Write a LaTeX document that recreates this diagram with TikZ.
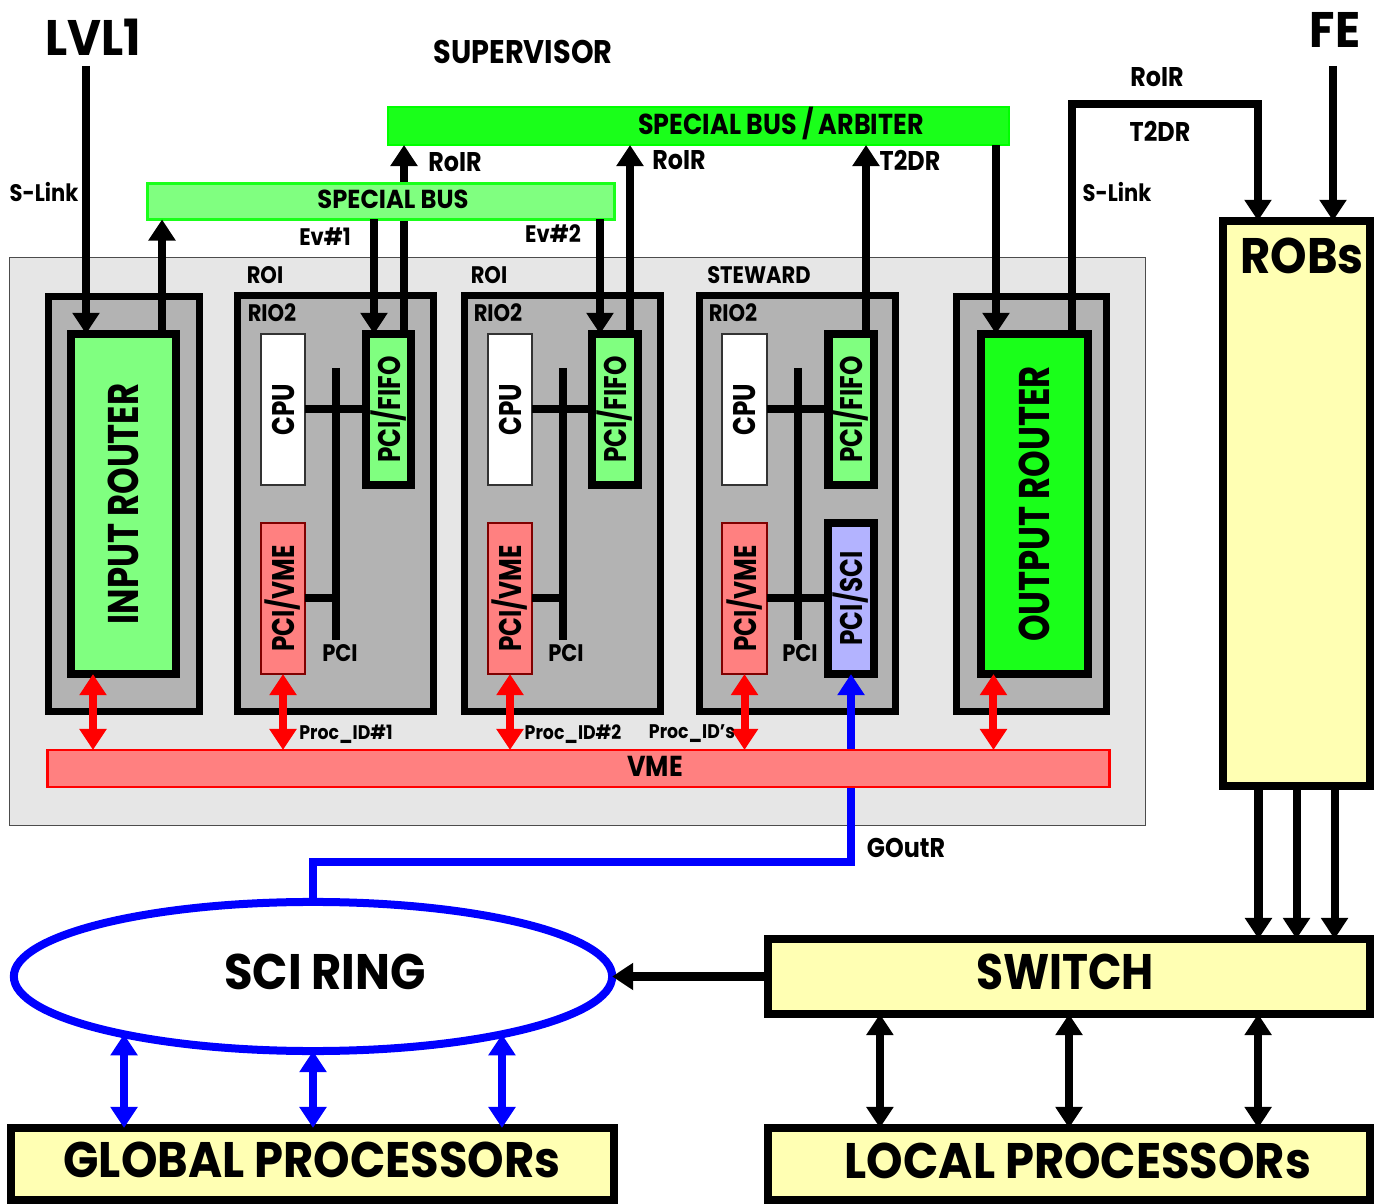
\documentclass[tikz,border=0pt]{standalone}
\usepackage{fontspec}
\setmainfont{Poppins}[FakeStretch=0.88]
\newfontfamily\widefont{Poppins}[FakeStretch=0.93]
\newfontfamily\rotfont{Poppins}[FakeStretch=0.79]
\usetikzlibrary{arrows.meta,shapes.geometric,calc}

\definecolor{lgreen}{RGB}{128,255,128}
\definecolor{bgreen}{RGB}{26,255,26}
\definecolor{lred}{RGB}{255,128,128}
\definecolor{lblue}{RGB}{179,179,255}
\definecolor{lyellow}{RGB}{255,255,179}
\definecolor{boardgray}{RGB}{179,179,179}
\definecolor{crategray}{RGB}{230,230,230}

\tikzset{
  tip/.tip={Triangle[length=2.1mm,width=2.6mm]},
  arr/.style={-tip, line width=0.8mm},
  dblarr/.style={tip-tip, line width=0.8mm},
  redarr/.style={tip-tip, line width=0.8mm, red},
  bluearr/.style={tip-tip, line width=0.8mm, blue},
  pcibus/.style={line width=0.8mm},
  box/.style={draw, rectangle, inner sep=0pt, outer sep=0pt},
  board/.style={box, fill=boardgray, line width=0.7mm},
  thickbox/.style={box, line width=0.8mm},
  thinbox/.style={box, line width=0.2mm, draw=black!80},
  lbl/.style={inner sep=0pt, font=\bfseries\fontsize{6.8}{8}\selectfont},
  biglbl/.style={inner sep=0pt, font=\widefont\bfseries\fontsize{14.2}{16}\selectfont},
  chiplbl/.style={inner sep=0pt, rotate=90, font=\rotfont\bfseries\fontsize{8.9}{10}\selectfont},
  routerlbl/.style={inner sep=0pt, rotate=90, font=\rotfont\bfseries\fontsize{12.2}{14}\selectfont},
  cpubox/.style={thinbox, fill=white, minimum width=0.44cm, minimum height=1.51cm,
    label={[chiplbl]center:CPU}},
  fifobox/.style={thickbox, fill=lgreen, minimum width=0.45cm, minimum height=1.51cm,
    label={[chiplbl]center:PCI/FIFO}},
  vmebox/.style={thinbox, draw=red!50!black, fill=lred, minimum width=0.44cm, minimum height=1.51cm,
    label={[chiplbl]center:PCI/VME}},
}

\begin{document}
\begin{tikzpicture}[x=0.01cm,y=-0.01cm]
\useasboundingbox (0,0) rectangle (1382,1204);

% crate with the RIO2 boards
\node[box, fill=crategray, draw=black!70, line width=0.1mm, minimum width=11.35cm, minimum height=5.67cm] (crate) at (577.5,541.5) {};
\node[board, minimum width=1.51cm, minimum height=4.15cm] (inRb) at (124,504) {};
\node[thickbox, fill=lgreen, minimum width=1.05cm, minimum height=3.40cm,
  label={[routerlbl]center:INPUT ROUTER}] (inR) at (123.5,504) {};
\node[board, minimum width=1.96cm, minimum height=4.16cm] (rio1) at (335.5,503.5) {};
\node[board, minimum width=1.96cm, minimum height=4.16cm] (rio2) at (562.5,503.5) {};
\node[board, minimum width=1.96cm, minimum height=4.16cm] (rio3) at (797.5,503.5) {};
\node[board, minimum width=1.50cm, minimum height=4.15cm] (outRb) at (1031.5,504) {};
\node[thickbox, fill=bgreen, minimum width=1.07cm, minimum height=3.40cm,
  label={[routerlbl]center:OUTPUT ROUTER}] (outR) at (1034.5,504) {};

\node[cpubox] (cpu1) at (283,409.5) {};
\node[fifobox] (fifo1) at (388.5,409.5) {};
\node[vmebox] (pcivme1) at (283,598.5) {};
\node[cpubox] (cpu2) at (510,409.5) {};
\node[fifobox] (fifo2) at (615,409.5) {};
\node[vmebox] (pcivme2) at (510,598.5) {};
\node[cpubox] (cpu3) at (744.5,409.5) {};
\node[fifobox] (fifo3) at (851,409.5) {};
\node[vmebox] (pcivme3) at (744.5,598.5) {};
\node[thickbox, fill=lblue, minimum width=0.46cm, minimum height=1.51cm,
  label={[chiplbl]center:PCI/SCI}] (sci3) at (851,598.5) {};

% PCI buses
\draw[pcibus] ($(rio1.center)+(0,-135.5)$) -- ($(rio1.center)+(0,136.5)$);
\draw[pcibus] (cpu1.east) -- (fifo1.west);
\draw[pcibus] (pcivme1.east) -- (pcivme1.east -| rio1.center);
\draw[pcibus] ($(rio2.center)+(0,-135.5)$) -- ($(rio2.center)+(0,136.5)$);
\draw[pcibus] (cpu2.east) -- (fifo2.west);
\draw[pcibus] (pcivme2.east) -- (pcivme2.east -| rio2.center);
\draw[pcibus] ($(rio3.center)+(0,-135.5)$) -- ($(rio3.center)+(0,136.5)$);
\draw[pcibus] (cpu3.east) -- (fifo3.west);
\draw[pcibus] (pcivme3.east) -- (sci3.west);

\node[lbl] (roi1l) at (265,275) {ROI};
\node[lbl] (roi2l) at (489,275) {ROI};
\node[lbl] (stew) at (759,275) {STEWARD};
\node[lbl] (rio1l) at (272,313) {RIO2};
\node[lbl] (rio2l) at (498,313) {RIO2};
\node[lbl] (rio3l) at (733,313) {RIO2};
\node[lbl] (pci1) at (340,653) {PCI};
\node[lbl] (pci2) at (566,653) {PCI};
\node[lbl] (pci3) at (800,653) {PCI};

% SCI ring and processors
\node[draw=blue, ellipse, line width=0.8mm, inner sep=0pt, outer sep=0pt,
  minimum width=5.98cm, minimum height=1.49cm] (ring) at (313,976.5) {};
\node[biglbl] (ringl) at (325,972) {SCI RING};
\draw[line width=0.8mm, blue, tip-] (sci3.south) -- ++(0,188) -| (ring.north);
\node[lbl, font=\bfseries\fontsize{7.7}{9}\selectfont] (goutr) at (906,848) {GOutR};

% VME bus
\node[box, fill=lred, draw=red, line width=0.25mm, minimum width=10.61cm, minimum height=0.37cm] (vmebus) at (578.5,768.5) {};
\node[lbl, font=\bfseries\fontsize{8.2}{9}\selectfont] (vmel) at (655,766) {VME};
\draw[redarr] ([xshift=-3.05mm]inR.south) -- ([xshift=-3.05mm]inR.south |- vmebus.north);
\draw[redarr] (pcivme1.south) -- (pcivme1.south |- vmebus.north);
\draw[redarr] (pcivme2.south) -- (pcivme2.south |- vmebus.north);
\draw[redarr] (pcivme3.south) -- (pcivme3.south |- vmebus.north);
\draw[redarr] ([xshift=-4.1mm]outR.south) -- ([xshift=-4.1mm]outR.south |- vmebus.north);
\node[lbl, font=\bfseries\fontsize{5.6}{7}\selectfont] (pid1) at (346,734) {Proc\_ID\#1};
\node[lbl, font=\bfseries\fontsize{5.6}{7}\selectfont] (pid2) at (573,734) {Proc\_ID\#2};
\node[lbl, font=\bfseries\fontsize{5.6}{7}\selectfont] (pids) at (692,734) {Proc\_ID’s};

% special buses
\node[box, fill=bgreen, draw=green, line width=0.2mm, minimum width=6.21cm, minimum height=0.38cm] (arb) at (698.5,126) {};
\node[lbl, font=\bfseries\fontsize{8.2}{9}\selectfont] (arbl) at (781,124) {SPECIAL BUS / ARBITER};
\coordinate (lvl1in) at (86,66);
\coordinate (fein) at (1333,66);
\coordinate (ev1) at ([xshift=-1.45mm]fifo1.north);
\coordinate (roir1) at ([xshift=1.55mm]fifo1.north);
\coordinate (ev2) at ([xshift=-1.5mm]fifo2.north);
\coordinate (roir2) at ([xshift=1.5mm]fifo2.north);
\coordinate (t2dr) at ([xshift=1.5mm]fifo3.north);
\coordinate (outin) at ([xshift=-3.85mm]outR.north);
\coordinate (outup) at ([xshift=3.75mm]outR.north);
\coordinate (inup) at ([xshift=3.85mm]inR.north);
\draw[arr] (roir1) -- (roir1 |- arb.south);
\node[box, fill=lgreen, draw=bgreen, line width=0.3mm, minimum width=4.67cm, minimum height=0.36cm] (sbus) at (381,201.5) {};
\node[lbl, font=\widefont\bfseries\fontsize{7.4}{9}\selectfont] (sbusl) at (393,199) {SPECIAL BUS};
\draw[arr] (lvl1in) -- (lvl1in |- inR.north);
\draw[arr] (inup) -- (inup |- sbus.south);
\draw[arr] (ev1 |- sbus.south) -- (ev1);
\draw[arr] (ev2 |- sbus.south) -- (ev2);
\draw[arr] (roir2) -- (roir2 |- arb.south);
\draw[arr] (t2dr) -- (t2dr |- arb.south);
\draw[arr] (outin |- arb.south) -- (outin);

% ROBs, switch and local processors
\node[thickbox, fill=lyellow, minimum width=1.47cm, minimum height=5.65cm] (robs) at (1296.5,503.5) {};
\node[biglbl] (robsl) at (1302,256) {ROBs};
\draw[arr] (outup) -- ++(0,-230) -| ([xshift=-3.85mm]robs.north);
\draw[arr] (fein) -- (fein |- robs.north);
\node[thickbox, fill=lyellow, minimum width=6.02cm, minimum height=0.75cm] (switch) at (1069,976.5) {};
\node[biglbl, font=\bfseries\fontsize{14.2}{16}\selectfont] (switchl) at (1065,972) {SWITCH};
\draw[arr] ([xshift=-3.8mm]robs.south) -- ([xshift=-3.8mm]robs.south |- switch.north);
\draw[arr] (robs.south) -- (robs.south |- switch.north);
\draw[arr] ([xshift=3.8mm]robs.south) -- ([xshift=3.8mm]robs.south |- switch.north);
\draw[arr] (switch.west) -- (ring.east);
\node[thickbox, fill=lyellow, minimum width=6.02cm, minimum height=0.72cm] (local) at (1069,1164) {};
\node[biglbl] (locall) at (1078,1161) {LOCAL PROCESSORs};
\draw[dblarr] ([xshift=-18.9mm]switch.south) -- ([xshift=-18.9mm]local.north);
\draw[dblarr] (switch.south) -- (local.north);
\draw[dblarr] ([xshift=18.9mm]switch.south) -- ([xshift=18.9mm]local.north);
\node[thickbox, fill=lyellow, minimum width=6.03cm, minimum height=0.72cm] (global) at (312.5,1164) {};
\node[biglbl] (globall) at (312,1160) {GLOBAL PROCESSORs};
\draw[bluearr] (ring.197) -- (ring.197 |- global.north);
\draw[bluearr] (ring.south) -- (ring.south |- global.north);
\draw[bluearr] (ring.343) -- (ring.343 |- global.north);

% labels
\node[biglbl] (lvl1) at (93,37) {LVL1};
\node[biglbl] (fe) at (1335,30) {FE};
\node[lbl, font=\bfseries\fontsize{9.3}{11}\selectfont] (sup) at (523,52) {SUPERVISOR};
\node[lbl] (slink1) at (44,192) {S-Link};
\node[lbl] (slink2) at (1117,192) {S-Link};
\node[lbl] (ev1l) at (325,237) {Ev\#1};
\node[lbl] (ev2l) at (553,234) {Ev\#2};
\node[lbl, font=\bfseries\fontsize{7.7}{9}\selectfont] (roir1l) at (455,162) {RoIR};
\node[lbl, font=\bfseries\fontsize{7.7}{9}\selectfont] (roir2l) at (679,160) {RoIR};
\node[lbl, font=\bfseries\fontsize{7.7}{9}\selectfont] (t2drl) at (910,160) {T2DR};
\node[lbl, font=\bfseries\fontsize{7.7}{9}\selectfont] (roir3l) at (1157,77) {RoIR};
\node[lbl, font=\bfseries\fontsize{7.7}{9}\selectfont] (t2dr2l) at (1160,131) {T2DR};
\end{tikzpicture}
\end{document}
